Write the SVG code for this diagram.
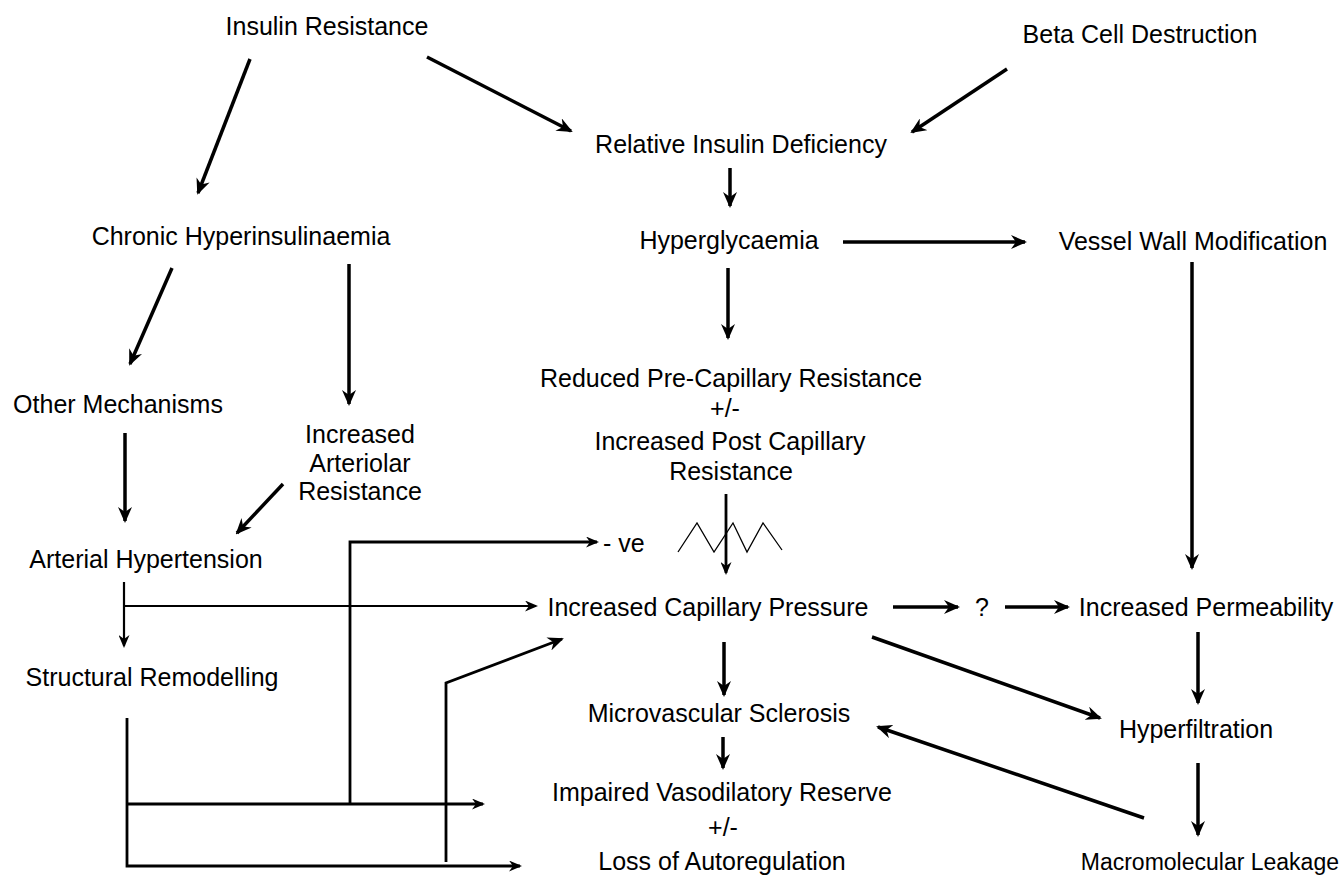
<svg xmlns="http://www.w3.org/2000/svg" width="1343" height="878" viewBox="0 0 1343 878">
<defs>
<style>
text{font-family:"Liberation Sans",Arial,sans-serif;font-size:25px;fill:#000;text-anchor:middle}
.s{text-anchor:start}
.e{text-anchor:end;font-size:23px}
.c{fill:none;stroke:#000;stroke-linecap:butt;stroke-linejoin:miter}
.t{stroke-width:3.5}
.m{stroke-width:2.8}
.n{stroke-width:2.2}
.z{stroke-width:1.3}
</style>
<marker id="a" markerUnits="userSpaceOnUse" viewBox="0 0 16 14" markerWidth="16" markerHeight="14" refX="14" refY="7" orient="auto">
<path d="M0,0 L16,7 L0,14 L5,7 z" fill="#000"/>
</marker>
<marker id="b" markerUnits="userSpaceOnUse" viewBox="0 0 13 11" markerWidth="13" markerHeight="11" refX="11" refY="5.5" orient="auto">
<path d="M0,0 L13,5.5 L0,11 L4,5.5 z" fill="#000"/>
</marker>
</defs>
<rect width="1343" height="878" fill="#fff"/>
<g id="connectors">
<path class="c t" d="M250,59 L198,193" marker-end="url(#a)"/>
<path class="c t" d="M427,57 L571,131" marker-end="url(#a)"/>
<path class="c t" d="M1007,69 L912,132" marker-end="url(#a)"/>
<path class="c t" d="M730,168 L730,206" marker-end="url(#a)"/>
<path class="c t" d="M843,242 L1025,242" marker-end="url(#a)"/>
<path class="c t" d="M728,268 L728,338" marker-end="url(#a)"/>
<path class="c t" d="M172,268 L130,364" marker-end="url(#a)"/>
<path class="c t" d="M349,264 L349,404" marker-end="url(#a)"/>
<path class="c t" d="M125,433 L125,521" marker-end="url(#a)"/>
<path class="c t" d="M283,484 L237,533" marker-end="url(#a)"/>
<path class="c m" d="M726,494 L726,573" marker-end="url(#b)"/>
<polyline class="c z" points="678,552 697,523 714,552 733,523 747,552 763,523 782,550"/>
<path class="c m" d="M350,803 L350,542 L597,542" marker-end="url(#b)"/>
<path class="c n" d="M124,582 L124,646" marker-end="url(#b)"/>
<path class="c n" d="M124,606 L536,606" marker-end="url(#b)"/>
<path class="c m" d="M127,718 L127,866 L520,866" marker-end="url(#b)"/>
<path class="c m" d="M127,804 L483,804" marker-end="url(#b)"/>
<path class="c m" d="M446,862 L446,683 L562,639" marker-end="url(#a)"/>
<path class="c t" d="M724,642 L724,695" marker-end="url(#a)"/>
<path class="c t" d="M723,737 L723,768" marker-end="url(#a)"/>
<path class="c t" d="M893,607 L958,607" marker-end="url(#a)"/>
<path class="c t" d="M1005,607 L1068,607" marker-end="url(#a)"/>
<path class="c t" d="M1192,262 L1192,568" marker-end="url(#a)"/>
<path class="c t" d="M872,637 L1100,718" marker-end="url(#a)"/>
<path class="c t" d="M1198,632 L1198,703" marker-end="url(#a)"/>
<path class="c t" d="M1198,763 L1198,835" marker-end="url(#a)"/>
<path class="c t" d="M1144,818 L878,727" marker-end="url(#a)"/>
</g>
<g id="insulin-resistance"><text x="327" y="35">Insulin Resistance</text></g>
<g id="beta-cell-destruction"><text x="1140" y="43">Beta Cell Destruction</text></g>
<g id="relative-insulin-deficiency"><text x="741" y="153">Relative Insulin Deficiency</text></g>
<g id="chronic-hyperinsulinaemia"><text x="241" y="245">Chronic Hyperinsulinaemia</text></g>
<g id="hyperglycaemia"><text x="729" y="249">Hyperglycaemia</text></g>
<g id="vessel-wall-modification"><text x="1193" y="250">Vessel Wall Modification</text></g>
<g id="other-mechanisms"><text x="118" y="413">Other Mechanisms</text></g>
<g id="capillary-resistance">
<text x="731" y="387">Reduced Pre-Capillary Resistance</text>
<text x="725" y="417">+/-</text>
<text x="730" y="450">Increased Post Capillary</text>
<text x="731" y="480">Resistance</text>
</g>
<g id="increased-arteriolar-resistance">
<text x="360" y="443">Increased</text>
<text x="360" y="472">Arteriolar</text>
<text x="360" y="500">Resistance</text>
</g>
<g id="negative"><text class="s" x="603" y="552">- ve</text></g>
<g id="arterial-hypertension"><text x="146" y="568">Arterial Hypertension</text></g>
<g id="increased-capillary-pressure"><text x="708" y="616">Increased Capillary Pressure</text></g>
<g id="question"><text x="982" y="616">?</text></g>
<g id="increased-permeability"><text x="1206" y="616">Increased Permeability</text></g>
<g id="structural-remodelling"><text x="152" y="686">Structural Remodelling</text></g>
<g id="microvascular-sclerosis"><text x="719" y="722">Microvascular Sclerosis</text></g>
<g id="hyperfiltration"><text x="1196" y="738">Hyperfiltration</text></g>
<g id="vasodilatory-reserve">
<text x="722" y="801">Impaired Vasodilatory Reserve</text>
<text x="723" y="836">+/-</text>
<text x="722" y="870">Loss of Autoregulation</text>
</g>
<g id="macromolecular-leakage"><text class="e" x="1339" y="870">Macromolecular Leakage</text></g>
</svg>
